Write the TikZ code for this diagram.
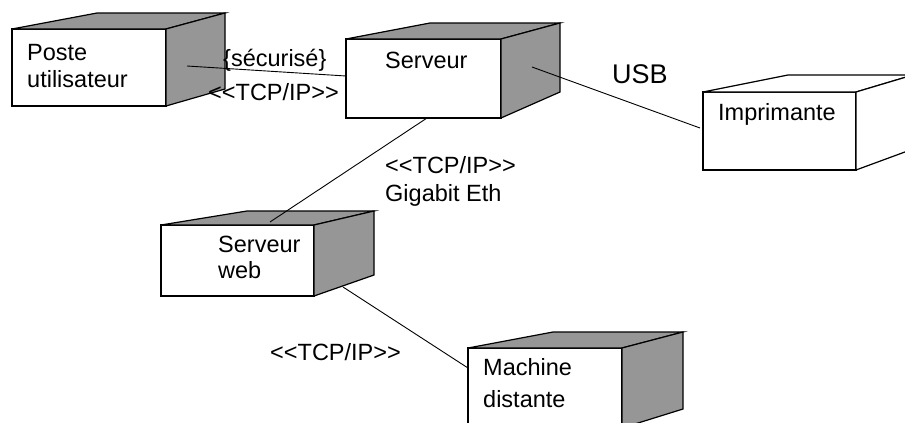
\documentclass[tikz,border=0pt]{standalone}
\usepackage{fontspec}
\newfontfamily\labelfont{Liberation Sans}
\usetikzlibrary{calc}
\definecolor{facegray}{RGB}{150,150,150}
\tikzset{
  frontface/.style={draw=black, line width=1.2pt, fill=white, rectangle,
    inner sep=0pt, outer sep=0pt, anchor=north west},
  sideface/.style={draw=black, line width=1.2pt, fill=#1, line join=miter},
  link/.style={draw=black, line width=0.9pt},
  lbl/.style={anchor=base west, inner sep=0pt,
    font=\labelfont\fontsize{23.5}{27}\selectfont},
  biglbl/.style={lbl, font=\labelfont\fontsize{27}{31}\selectfont},
}
% deployment node: name, top-left corner, width, height,
% top-face shift, depth shift (top), side shift, depth shift (bottom), fill
\newcommand\depbox[9]{%
  \node[frontface, minimum width=#3pt, minimum height=#4pt] (#1) at #2 {};
  \filldraw[sideface=#9] (#1.north west) -- ++(#5,#6)
    -- ($(#1.north east)+(#7,#6)$) -- (#1.north east) -- cycle;
  \filldraw[sideface=#9] (#1.north east) -- ++(#7,#6)
    -- ($(#1.south east)+(#7,#8)$) -- (#1.south east) -- cycle;
}
\begin{document}
\begin{tikzpicture}[x=1pt, y=-1pt]
  \clip (0,0) rectangle (905,423);
  \fill[white] (0,0) rectangle (905,423);

  % nodes
  \depbox{poste}{(12,29)}{154}{77}{85}{-16}{59}{-17}{facegray}
  \depbox{serveur}{(346,39)}{155}{79}{84}{-16}{59}{-26}{facegray}
  \depbox{imprimante}{(703,92)}{153}{78}{85}{-17}{57}{-21}{white}
  \depbox{web}{(161,225)}{153}{71}{86}{-14}{60}{-21}{facegray}
  \depbox{machine}{(468,348)}{154}{80}{85}{-16}{61}{-19}{facegray}

  % connector end points
  \coordinate (a1) at ($(poste.north east)+(21,37)$);
  \coordinate (a2) at ($(serveur.north west)+(0,37)$);
  \coordinate (b1) at ($(serveur.north east)+(31,28)$);
  \coordinate (b2) at ($(imprimante.north west)+(-3,36)$);
  \coordinate (c1) at ($(serveur.south west)+(81,0)$);
  \coordinate (c2) at ($(web.north west)+(109,-3)$);
  \coordinate (d1) at ($(web.south east)+(29,-9)$);
  \coordinate (d2) at ($(machine.north west)+(0,20)$);

  % connectors
  \draw[link] (a1) -- (a2);
  \draw[link] (b1) -- (b2);
  \draw[link] (c1) -- (c2);
  \draw[link] (d1) -- (d2);

  % node names
  \node[lbl] (tposte1) at (27,60) {Poste};
  \node[lbl] (tposte2) at (27,87) {utilisateur};
  \node[lbl] (tserveur) at (385,68) {Serveur};
  \node[lbl] (timpr) at (718,120) {Imprimante};
  \node[lbl] (tweb1) at (218,252) {Serveur};
  \node[lbl] (tweb2) at (218,278) {web};
  \node[lbl] (tmach1) at (483,375) {Machine};
  \node[lbl] (tmach2) at (483,407) {distante};

  % connector labels
  \node[lbl] (lsec) at (223,66) {\{sécurisé\}};
  \node[lbl] (ltcp1) at (208,100) {<<TCP/IP>>};
  \node[biglbl] (lusb) at (612,83) {USB};
  \node[lbl] (ltcp2) at (385,173) {<<TCP/IP>>};
  \node[lbl] (lgig) at (385,201) {Gigabit Eth};
  \node[lbl] (ltcp3) at (270,360) {<<TCP/IP>>};
\end{tikzpicture}
\end{document}
